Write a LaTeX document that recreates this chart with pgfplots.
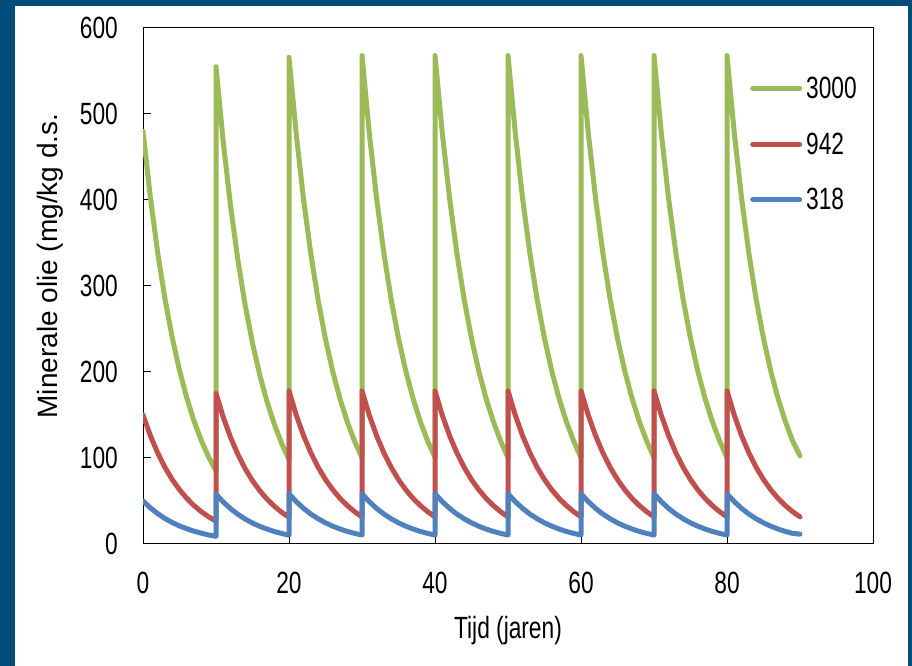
\documentclass[border=0pt]{standalone}
\usepackage{fontspec}
\usepackage{pgfplots}
\pgfplotsset{compat=1.18}
\setmainfont{Liberation Sans}
\newfontfamily\tickfam{Liberation Sans}[FakeStretch=0.74]
\newfontfamily\labfam{Liberation Sans}
\newcommand{\tf}{\tickfam\fontsize{30.7bp}{36bp}\selectfont}
\newcommand{\lf}{\labfam\fontsize{28bp}{32bp}\selectfont}
\definecolor{bgblue}{RGB}{0,77,122}
\definecolor{cgreen}{RGB}{155,187,89}
\definecolor{cred}{RGB}{192,80,77}
\definecolor{cblue}{RGB}{79,129,189}
\begin{document}
\begin{tikzpicture}
\useasboundingbox (0,0) rectangle (912bp,666bp);
\fill[bgblue] (0,0) rectangle (912bp,666bp);
\fill[white] (15bp,0) rectangle (908bp,660bp);
\begin{axis}[
  at={(143bp,122bp)}, anchor=south west,
  width=730bp, height=516bp, scale only axis,
  xmin=0, xmax=100, ymin=0, ymax=600,
  xtick={0,20,...,100}, ytick={0,100,...,600},
  tick align=inside, xtick pos=bottom, ytick pos=left,
  major tick length=8bp,
  axis line style={line width=1bp, black},
  tick style={line width=1bp, black},
  /pgf/number format/assume math mode=true,
  ticklabel style={font=\tf, inner sep=0pt},
  yticklabel style={anchor=east, xshift=-25bp},
  xticklabel style={anchor=north, yshift=-28bp},
  xlabel={Tijd (jaren)},
  xlabel style={font=\tf, inner sep=0pt, at={(axis description cs:0.5,0)}, anchor=north, yshift=-72bp},
  ylabel={Minerale olie (mg/kg d.s.},
  ylabel style={font=\lf, inner sep=0pt, at={(axis description cs:-0.1178,0.5388)}, anchor=base, rotate=0},
  legend style={at={(rel axis cs:0.8315,0.905)}, anchor=north west, draw=none, fill=none, inner sep=0pt, row sep=32.5bp, font=\tf, nodes={inner sep=0pt}, /tikz/every odd column/.append style={column sep=4bp}},
  legend cell align=left,
  legend image code/.code={\draw[#1, line cap=round] (2.5bp,0bp) -- (49.5bp,0bp);},
  every axis plot/.append style={line width=5bp, line join=round, line cap=round},
]
\addplot[cgreen] coordinates {
(0,480)(1,403.7)(2,339.5)(3,285.5)(4,240.1)(5,201.9)(6,169.8)(7,142.8)(8,120.1)(9,101.0)(10,85.0)
(10,555)(11,466.8)(12,392.6)(13,330.1)(14,277.6)(15,233.5)(16,196.4)(17,165.2)(18,138.9)(19,116.8)(20,98.2)
(20,566)(21,476.0)(22,400.3)(23,336.7)(24,283.1)(25,238.1)(26,200.3)(27,168.4)(28,141.7)(29,119.1)(30,100.2)
(30,568)(31,477.7)(32,401.7)(33,337.8)(34,284.1)(35,239.0)(36,201.0)(37,169.0)(38,142.2)(39,119.6)(40,100.5)
(40,568)(41,477.7)(42,401.7)(43,337.8)(44,284.1)(45,239.0)(46,201.0)(47,169.0)(48,142.2)(49,119.6)(50,100.5)
(50,568)(51,477.7)(52,401.7)(53,337.8)(54,284.1)(55,239.0)(56,201.0)(57,169.0)(58,142.2)(59,119.6)(60,100.5)
(60,568)(61,477.7)(62,401.7)(63,337.8)(64,284.1)(65,239.0)(66,201.0)(67,169.0)(68,142.2)(69,119.6)(70,100.5)
(70,568)(71,477.7)(72,401.7)(73,337.8)(74,284.1)(75,239.0)(76,201.0)(77,169.0)(78,142.2)(79,119.6)(80,100.5)
(80,568)(81,477.7)(82,401.7)(83,337.8)(84,284.1)(85,239.0)(86,201.0)(87,169.0)(88,142.2)(89,119.6)(90,102.5)
};
\addlegendentry{3000}
\addplot[cred] coordinates {
(0,150)(1,126.2)(2,106.1)(3,89.2)(4,75.0)(5,63.1)(6,53.1)(7,44.6)(8,37.5)(9,31.6)(10,26.6)
(10,175)(11,147.2)(12,123.8)(13,104.1)(14,87.5)(15,73.6)(16,61.9)(17,52.1)(18,43.8)(19,36.8)(20,31.0)
(20,178)(21,149.7)(22,125.9)(23,105.9)(24,89.0)(25,74.9)(26,63.0)(27,53.0)(28,44.6)(29,37.5)(30,31.5)
(30,178)(31,149.7)(32,125.9)(33,105.9)(34,89.0)(35,74.9)(36,63.0)(37,53.0)(38,44.6)(39,37.5)(40,31.5)
(40,178)(41,149.7)(42,125.9)(43,105.9)(44,89.0)(45,74.9)(46,63.0)(47,53.0)(48,44.6)(49,37.5)(50,31.5)
(50,178)(51,149.7)(52,125.9)(53,105.9)(54,89.0)(55,74.9)(56,63.0)(57,53.0)(58,44.6)(59,37.5)(60,31.5)
(60,178)(61,149.7)(62,125.9)(63,105.9)(64,89.0)(65,74.9)(66,63.0)(67,53.0)(68,44.6)(69,37.5)(70,31.5)
(70,178)(71,149.7)(72,125.9)(73,105.9)(74,89.0)(75,74.9)(76,63.0)(77,53.0)(78,44.6)(79,37.5)(80,31.5)
(80,178)(81,149.7)(82,125.9)(83,105.9)(84,89.0)(85,74.9)(86,63.0)(87,53.0)(88,44.6)(89,37.5)(90,31.5)
};
\addlegendentry{942}
\addplot[cblue] coordinates {
(0,50)(1,42.1)(2,35.4)(3,29.7)(4,25.0)(5,21.0)(6,17.7)(7,14.9)(8,12.5)(9,10.5)(10,8.9)
(10,58)(11,48.8)(12,41.0)(13,34.5)(14,29.0)(15,24.4)(16,20.5)(17,17.3)(18,14.5)(19,12.2)(20,10.3)
(20,58.5)(21,49.2)(22,41.4)(23,34.8)(24,29.3)(25,24.6)(26,20.7)(27,17.4)(28,14.6)(29,12.3)(30,10.4)
(30,58.5)(31,49.2)(32,41.4)(33,34.8)(34,29.3)(35,24.6)(36,20.7)(37,17.4)(38,14.6)(39,12.3)(40,10.4)
(40,58.5)(41,49.2)(42,41.4)(43,34.8)(44,29.3)(45,24.6)(46,20.7)(47,17.4)(48,14.6)(49,12.3)(50,10.4)
(50,58.5)(51,49.2)(52,41.4)(53,34.8)(54,29.3)(55,24.6)(56,20.7)(57,17.4)(58,14.6)(59,12.3)(60,10.4)
(60,58.5)(61,49.2)(62,41.4)(63,34.8)(64,29.3)(65,24.6)(66,20.7)(67,17.4)(68,14.6)(69,12.3)(70,10.4)
(70,58.5)(71,49.2)(72,41.4)(73,34.8)(74,29.3)(75,24.6)(76,20.7)(77,17.4)(78,14.6)(79,12.3)(80,10.4)
(80,58.5)(81,49.2)(82,41.4)(83,34.8)(84,29.3)(85,24.6)(86,20.7)(87,17.4)(88,14.6)(89,12.3)(90,11.5)
};
\addlegendentry{318}
\end{axis}
\end{tikzpicture}
\end{document}
